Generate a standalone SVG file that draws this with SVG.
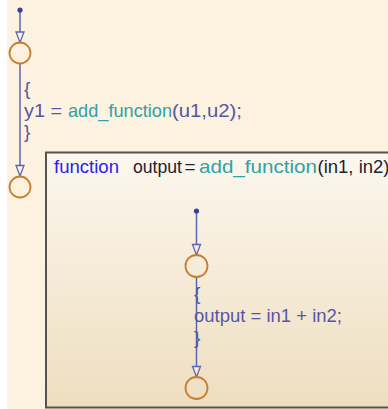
<svg xmlns="http://www.w3.org/2000/svg" width="388" height="409" viewBox="0 0 388 409">
<style>
text{font-family:"Liberation Sans",Arial,sans-serif;font-size:19px}
.tr{stroke:#5a66b4;stroke-width:1.5;fill:none}
.arr{stroke:#5a66b4;stroke-width:1.3;fill:#fdf2df}
.arr2{stroke:#5a66b4;stroke-width:1.3;fill:#f6ead4}
.junc{stroke:#c97d32;stroke-width:1.8;fill:none}
.dot{fill:#3c3f9a}
.act{fill:#5656a6}
.teal{fill:#2ea3a6}
.kw{fill:#2a22f0}
.dark{fill:#222230}
</style>
<defs>
<linearGradient id="boxg" x1="0" y1="0" x2="0" y2="1">
<stop offset="0" stop-color="#fcf7ee"/>
<stop offset="1" stop-color="#eedec0"/>
</linearGradient>
</defs>
<rect x="0" y="0" width="388" height="409" fill="#ffffff"/>
<rect x="7" y="0" width="381" height="409" fill="#fdf2df"/>

<g id="function-box">
<rect x="46" y="152.5" width="360" height="255" fill="url(#boxg)" stroke="#55534f" stroke-width="2"/>
<text x="54" y="173"><tspan class="kw" x="54" textLength="65" lengthAdjust="spacingAndGlyphs">function</tspan><tspan class="dark" x="133" textLength="49" lengthAdjust="spacingAndGlyphs">output</tspan><tspan class="dark" x="184.5">=</tspan><tspan class="teal" x="199" textLength="118" lengthAdjust="spacingAndGlyphs">add_function</tspan><tspan class="dark" x="317.5" textLength="72" lengthAdjust="spacingAndGlyphs">(in1, in2)</tspan></text>
</g>

<g id="connectors">
<line class="tr" x1="20" y1="10" x2="20" y2="42.5"/>
<line class="tr" x1="20" y1="64" x2="20" y2="176"/>
<line class="tr" x1="196.5" y1="211" x2="196.5" y2="255"/>
<line class="tr" x1="196.5" y1="277" x2="196.5" y2="377"/>
<polygon class="arr" points="16,32 24,32 20,42.5"/>
<polygon class="arr" points="16,165.5 24,165.5 20,176"/>
<polygon class="arr2" points="192.5,244.5 200.5,244.5 196.5,255"/>
<polygon class="arr2" points="192.5,366.5 200.5,366.5 196.5,377"/>
</g>

<g id="default-transition-top">
<circle class="dot" cx="20" cy="10" r="2.6"/>
</g>
<g id="junction-top-1">
<circle class="junc" cx="20" cy="53" r="10.5"/>
</g>
<g id="top-action">
<text x="24" y="95" class="act">{</text>
<text x="24" y="117"><tspan class="act" x="24" textLength="38" lengthAdjust="spacingAndGlyphs">y1 =</tspan><tspan class="teal" x="68" textLength="104" lengthAdjust="spacingAndGlyphs">add_function</tspan><tspan class="act" x="172" textLength="70" lengthAdjust="spacingAndGlyphs">(u1,u2);</tspan></text>
<text x="24" y="138" class="act">}</text>
</g>
<g id="junction-top-2">
<circle class="junc" cx="20" cy="187" r="10.5"/>
</g>

<g id="default-transition-inner">
<circle class="dot" cx="196.5" cy="211" r="2.6"/>
</g>
<g id="junction-inner-1">
<circle class="junc" cx="196.5" cy="266" r="11"/>
</g>
<g id="inner-action">
<text x="194" y="300" class="act">{</text>
<text x="194" y="322" class="act" textLength="148" lengthAdjust="spacingAndGlyphs">output = in1 + in2;</text>
<text x="194" y="344" class="act">}</text>
</g>
<g id="junction-inner-2">
<circle class="junc" cx="196.5" cy="388" r="11"/>
</g>
</svg>
